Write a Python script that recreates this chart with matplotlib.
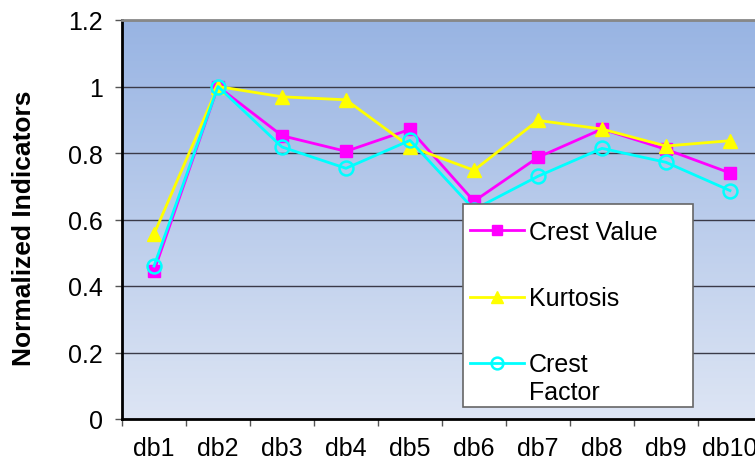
import matplotlib
matplotlib.use('agg')
import matplotlib.pyplot as plt
import matplotlib.patches as mpatches
import numpy as np

plt.rcParams['font.family'] = ['Liberation Sans', 'DejaVu Sans']

categories = ['db1', 'db2', 'db3', 'db4', 'db5', 'db6', 'db7', 'db8', 'db9', 'db10']
crestValue = [0.445, 1.0, 0.852, 0.805, 0.871, 0.655, 0.787, 0.872, 0.811, 0.740]
kurtosis = [0.556, 1.0, 0.969, 0.960, 0.819, 0.748, 0.898, 0.872, 0.821, 0.837]
crestFactor = [0.460, 1.0, 0.818, 0.754, 0.838, 0.630, 0.730, 0.814, 0.772, 0.687]
yTicks = [0, 0.2, 0.4, 0.6, 0.8, 1.0, 1.2]
yTickLabels = ['0', '0.2', '0.4', '0.6', '0.8', '1', '1.2']

W, H = 755, 464
fig = plt.figure(figsize=(W / 100, H / 100), dpi=100)
# axes deliberately runs past the right edge, like the original
ax = fig.add_axes([122 / W, (H - 420) / H, 640 / W, 399 / H])

x = np.arange(len(categories))
ax.set_xlim(-0.5, len(categories) - 0.5)
ax.set_ylim(0, 1.2)

# vertical gradient background
grad = np.linspace(0, 1, 256).reshape(-1, 1)
top = np.array([0x98, 0xB4, 0xE3]) / 255
bot = np.array([0xDD, 0xE5, 0xF4]) / 255
img = (bot * (1 - grad)[:, :, None] + top * grad[:, :, None])
ax.imshow(img, extent=[-0.5, len(categories) - 0.5, 0, 1.2], origin='lower',
          aspect='auto', zorder=0)

for yv in yTicks[1:]:
    ax.axhline(yv, color='#3A3A48', lw=1.0, zorder=1)

ax.plot(x, crestValue, color='#FF00FF', lw=2, marker='s', ms=9,
        mfc='#FF00FF', mec='#FF00FF', label='Crest Value', zorder=3)
ax.plot(x, kurtosis, color='#FFFF00', lw=2, marker='^', ms=10,
        mfc='#FFFF00', mec='#FFFF00', label='Kurtosis', zorder=3)
ax.plot(x, crestFactor, color='#00FFFF', lw=2, marker='o', ms=10,
        mfc='none', mec='#00FFFF', mew=1.8, label='Crest', zorder=4)

ax.set_yticks(yTicks)
ax.set_yticklabels(yTickLabels)
ax.set_xticks(np.arange(len(categories) + 1) - 0.5, minor=True)
ax.set_xticks(x)
ax.set_xticklabels(categories)
ax.tick_params(axis='x', which='major', length=0, labelsize=18, pad=12)
ax.tick_params(axis='x', which='minor', length=5, width=1, color='#555555')
ax.tick_params(axis='y', length=5, width=1, color='#555555', labelsize=18, pad=9)

for side in ['top', 'right']:
    ax.spines[side].set_color('#888888')
    ax.spines[side].set_linewidth(2)
ax.spines['left'].set_color('black')
ax.spines['left'].set_linewidth(2)
ax.spines['bottom'].set_color('black')
ax.spines['bottom'].set_linewidth(2)

ax.set_ylabel('Normalized Indicators', fontsize=19, fontweight='bold')
ax.yaxis.set_label_coords(-0.135, 0.481)

# legend box drawn separately so it can match the original size
box = mpatches.Rectangle((463 / W, (H - 408) / H), 230 / W, 203 / H,
                         transform=fig.transFigure, facecolor='white',
                         edgecolor='#666666', lw=1.2, zorder=6, clip_on=False)
ax.add_patch(box)
leg = ax.legend(loc='upper left', bbox_to_anchor=(470 / W, (H - 221) / H),
                bbox_transform=fig.transFigure, fontsize=18, frameon=False,
                labelspacing=1.69, handlelength=2.15, handletextpad=0.2,
                borderpad=0, borderaxespad=0, markerscale=0.85)
leg.set_zorder(7)

fig.canvas.draw()
bb = leg.get_texts()[2].get_window_extent()
fx, fy = fig.transFigure.inverted().transform((bb.x0, bb.y0 - 27))
ax.text(fx, fy, 'Factor', transform=fig.transFigure, fontsize=18,
        va='bottom', ha='left', zorder=8)

fig.savefig('out.png', dpi=100)
